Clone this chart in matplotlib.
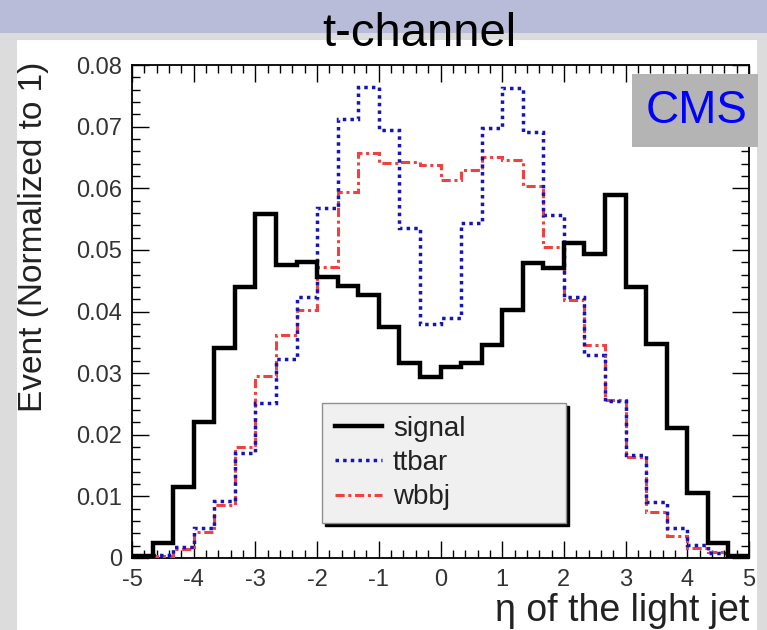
import numpy as np
import matplotlib.pyplot as plt
from matplotlib.patches import Rectangle
from matplotlib.ticker import MultipleLocator, FuncFormatter

plt.rcParams['font.family'] = ['Liberation Sans', 'DejaVu Sans']
plt.rcParams['axes.unicode_minus'] = False

# 30 bins of eta between -5 and 5
edges = np.linspace(-5, 5, 31)

signal = [0.0003, 0.0024, 0.0115, 0.0221, 0.0341, 0.0440, 0.0559, 0.0475, 0.0481, 0.0456,
          0.0441, 0.0427, 0.0375, 0.0316, 0.0294, 0.0310, 0.0316, 0.0345, 0.0402, 0.0479,
          0.0470, 0.0511, 0.0494, 0.0589, 0.0440, 0.0348, 0.0211, 0.0105, 0.0024, 0.0003]
ttbar = [0.0001, 0.0005, 0.0018, 0.0049, 0.0092, 0.0170, 0.0251, 0.0323, 0.0423, 0.0568,
         0.0712, 0.0765, 0.0694, 0.0535, 0.0380, 0.0390, 0.0543, 0.0697, 0.0762, 0.0692,
         0.0557, 0.0424, 0.0329, 0.0254, 0.0167, 0.0091, 0.0049, 0.0021, 0.0008, 0.0002]
wbbj = [0.0001, 0.0003, 0.0014, 0.0043, 0.0086, 0.0180, 0.0295, 0.0362, 0.0402, 0.0473,
        0.0594, 0.0658, 0.0641, 0.0643, 0.0638, 0.0614, 0.0630, 0.0650, 0.0646, 0.0603,
        0.0505, 0.0419, 0.0346, 0.0256, 0.0164, 0.0075, 0.0035, 0.0016, 0.0009, 0.0002]

W, H = 767, 630
fig = plt.figure(figsize=(W / 100, H / 100), dpi=100)
fig.patch.set_facecolor('#dcdcdc')

# slide decoration: header bar and white canvas
fig.patches.append(Rectangle((0, 1 - 33 / H), 1, 33 / H, transform=fig.transFigure,
                             facecolor='#b9bcd9', edgecolor='none', zorder=-2))
fig.patches.append(Rectangle((17 / W, 0), 740 / W, 1 - 40 / H, transform=fig.transFigure,
                             facecolor='white', edgecolor='none', zorder=-2))

ax = fig.add_axes([132 / W, 72 / H, 617 / W, 493 / H])
ax.set_facecolor('white')

ax.stairs(wbbj, edges, color='#f04040', lw=2.2, ls=(0, (3, 1.2, 1, 1.2)), label='wbbj', zorder=3)
ax.stairs(ttbar, edges, color='#1414b8', lw=2.5, ls=(0, (1, 1.2)), label='ttbar', zorder=4)
ax.stairs(signal, edges, color='black', lw=3.2, label='signal', zorder=5)

ax.set_xlim(-5, 5)
ax.set_ylim(0, 0.08)
ax.xaxis.set_major_locator(MultipleLocator(1))
ax.xaxis.set_minor_locator(MultipleLocator(0.2))
ax.yaxis.set_major_locator(MultipleLocator(0.01))
ax.yaxis.set_minor_locator(MultipleLocator(0.002))
ax.yaxis.set_major_formatter(FuncFormatter(lambda v, p: '0' if abs(v) < 1e-9 else '%.2f' % v))
ax.tick_params(which='both', direction='in', top=True, right=True, labelsize=17,
               colors='black', labelcolor='#333333')
ax.tick_params(which='major', length=12, width=1)
ax.tick_params(which='minor', length=6, width=1)
ax.tick_params(axis='x', pad=8)
ax.tick_params(axis='y', pad=7)
for s in ax.spines.values():
    s.set_linewidth(1.3)

ax.set_xlabel('η of the light jet', fontsize=27, loc='right', color='#222222')
ax.xaxis.set_label_coords(1.0, -0.07)
ax.set_ylabel('Event (Normalized to 1)', fontsize=24, loc='top', color='#222222')
ax.yaxis.set_label_coords(-0.135, 1.006)

handles, labels = ax.get_legend_handles_labels()
leg = ax.legend(handles[::-1], labels[::-1], loc='center',
                bbox_to_anchor=(322 / W, 1 - 524 / H, 244 / W, 122 / H),
                bbox_transform=fig.transFigure, mode='expand', fontsize=20,
                frameon=True, fancybox=False, shadow={'color': 'black', 'alpha': 1},
                handlelength=1.7, handletextpad=0.4, labelspacing=0.3, borderpad=0.45,
                borderaxespad=0)
leg.get_frame().set_facecolor('#f0f0f0')
leg.get_frame().set_edgecolor('#909090')
leg.get_frame().set_linewidth(1)
leg.get_frame().set_alpha(1)
leg.set_zorder(10)
for t in leg.get_texts():
    t.set_color('#222222')

# CMS label box
fig.patches.append(Rectangle((632 / W, 1 - 147 / H), 126 / W, 73 / H, transform=fig.transFigure,
                             facecolor='#b4b4b4', edgecolor='none', zorder=5))
fig.text(697 / W, 1 - 111 / H, 'CMS', color='#0000ff', fontsize=33, ha='center', va='center', zorder=6)

fig.text(419 / W, 1 - 46 / H, 't-channel', fontsize=34, ha='center', va='baseline', zorder=6)

fig.savefig('out.png', dpi=100)
